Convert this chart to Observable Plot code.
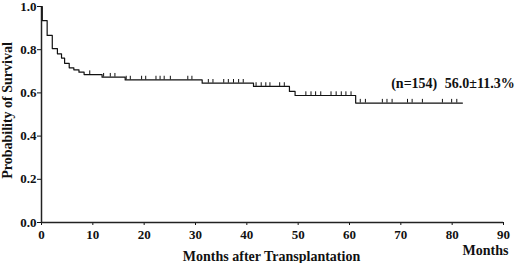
<!DOCTYPE html>
<html>
<head>
<meta charset="utf-8">
<script src="https://cdn.jsdelivr.net/npm/d3@7"></script>
<script src="https://cdn.jsdelivr.net/npm/@observablehq/plot@0.6"></script>
<style>
  html, body { margin: 0; padding: 0; background: #fff; }
</style>
</head>
<body>
<div id="chart"></div>
<script>
// Kaplan-Meier step curve: time (months) where each level starts, and the survival level
const stepTimes = [0, 0.15, 1.1, 2.1, 3.1, 3.9, 4.5, 5.4, 6.3, 7.3, 8.3, 11.8, 16.3, 31.3, 41.3, 48.3, 49.4, 61.2, 82.0];
const stepSurv  = [1.0, 0.935, 0.866, 0.805, 0.781, 0.761, 0.737, 0.716, 0.707, 0.696, 0.685, 0.673, 0.660, 0.645, 0.630, 0.607, 0.588, 0.553, 0.553];

// Censored observations (months)
const censorTimes = [9.4, 12.1, 13.4, 14.3, 16.5, 17.3, 19.5, 20.3, 22.3, 23.1, 23.9, 25.1, 28.5, 29.3,
  32.5, 33.4, 35.5, 36.4, 37.4, 38.4, 39.3, 41.8, 42.8, 43.7, 44.5, 46.4, 47.3,
  51.5, 52.5, 53.4, 54.4, 56.4, 57.4, 58.4, 59.3, 60.3,
  62.1, 63.1, 66.4, 67.3, 68.3, 71.3, 72.2, 74.2, 78.1, 79.9, 80.9];

const xTicks = [0, 10, 20, 30, 40, 50, 60, 70, 80, 90];
const yTicks = [0.0, 0.2, 0.4, 0.6, 0.8, 1.0];

const yLabel = "Probability of Survival";
const xLabel = "Months after Transplantation";
const xUnit = "Months";
const nLabel = "(n=154)";
const survLabel = "56.0\u00B111.3%";

const curve = stepTimes.map((t, i) => ({t, s: stepSurv[i]}));
function levelAt(t) {
  let s = stepSurv[0];
  for (let i = 0; i < stepTimes.length; i++) if (stepTimes[i] <= t) s = stepSurv[i];
  return s;
}
const censors = censorTimes.map(t => ({t, s: levelAt(t)}));

const font = "'Liberation Serif', 'Times New Roman', Times, serif";

const chart = Plot.plot({
  width: 520,
  height: 263,
  marginLeft: 41,
  marginRight: 17,
  marginTop: 6,
  marginBottom: 41,
  style: {fontFamily: font, fontSize: "12px", fontWeight: "bold", color: "#111", background: "#fff"},
  x: {domain: [0, 90]},
  y: {domain: [0, 1]},
  marks: [
    Plot.axisX({ticks: xTicks, tickSize: 3, tickPadding: 4, label: null, fontSize: 13, tickFormat: d3.format("d")}),
    Plot.axisY({ticks: yTicks, tickSize: 4, tickPadding: 1, label: null, fontSize: 13, tickFormat: d3.format(".1f")}),
    Plot.ruleY([0], {stroke: "#222", strokeWidth: 1.5}),
    Plot.ruleX([0], {stroke: "#222", strokeWidth: 1.5}),
    Plot.line(curve, {x: "t", y: "s", curve: "step-after", stroke: "#111", strokeWidth: 1.2}),
    Plot.ruleX(censors, {x: "t", y1: "s", y2: d => d.s + 0.017, stroke: "#111", strokeWidth: 1}),
    Plot.text([yLabel], {text: d => d, frameAnchor: "left", dx: -30, dy: -4, rotate: -90, lineAnchor: "bottom", textAnchor: "middle", fontSize: 14, fontWeight: "bold"}),
    Plot.text([xLabel], {text: d => d, frameAnchor: "bottom", dx: -1, dy: 38, lineAnchor: "bottom", textAnchor: "middle", fontSize: 14, fontWeight: "bold"}),
    Plot.text([xUnit], {text: d => d, frameAnchor: "bottom-right", dx: 5, dy: 32, lineAnchor: "bottom", textAnchor: "end", fontSize: 14, fontWeight: "bold"}),
    Plot.text([nLabel], {text: d => d, x: 77.1, y: 0.622, lineAnchor: "bottom", textAnchor: "end", fontSize: 14, fontWeight: "bold"}),
    Plot.text([survLabel], {text: d => d, x: 92.2, y: 0.622, lineAnchor: "bottom", textAnchor: "end", fontSize: 14, fontWeight: "bold"})
  ]
});
document.getElementById("chart").appendChild(chart);
</script>
</body>
</html>
